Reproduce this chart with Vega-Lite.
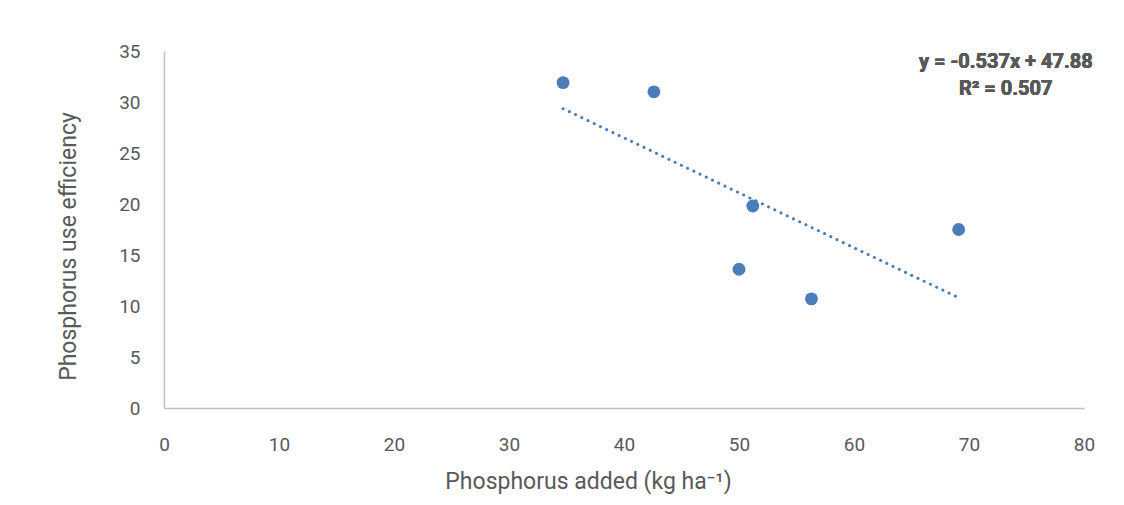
{
  "$schema": "https://vega.github.io/schema/vega-lite/v6.json",
  "autosize": {"type": "none"},
  "padding": {"left": 164, "top": 51, "right": 40, "bottom": 97},
  "width": 920,
  "height": 357,
  "background": "white",
  "config": {"view": {"stroke": null}},
  "data": {"values": [
    {"P_added": 34.7, "PUE": 31.9},
    {"P_added": 42.6, "PUE": 31.0},
    {"P_added": 51.2, "PUE": 19.8},
    {"P_added": 50.0, "PUE": 13.6},
    {"P_added": 56.3, "PUE": 10.7},
    {"P_added": 69.1, "PUE": 17.5}
  ]},
  "layer": [
    {
      "transform": [{"regression": "PUE", "on": "P_added"}],
      "mark": {"type": "line", "color": "#4A7EBB", "strokeWidth": 3, "strokeCap": "round", "strokeDash": [0.1, 6.8]},
      "encoding": {
        "x": {"field": "P_added", "type": "quantitative"},
        "y": {"field": "PUE", "type": "quantitative"}
      }
    },
    {
      "mark": {"type": "point", "filled": true, "opacity": 1, "color": "#4A7EBB", "size": 165},
      "encoding": {
        "x": {
          "field": "P_added", "type": "quantitative",
          "scale": {"domain": [0, 80], "nice": false},
          "axis": {
            "title": "Phosphorus  added (kg ha⁻¹)",
            "values": [0, 10, 20, 30, 40, 50, 60, 70, 80],
            "grid": false, "ticks": false, "tickSize": 0, "labelFlush": false,
            "domainColor": "#BFBFBF", "domainWidth": 1.5,
            "labelColor": "#595959", "labelFont": "Roboto", "labelFontWeight": "normal", "labelFontSize": 19, "labelPadding": 27,
            "titleColor": "#595959", "titleFont": "Roboto", "titleFontSize": 23, "titleFontWeight": "normal",
            "titlePadding": 16, "titleX": 424
          }
        },
        "y": {
          "field": "PUE", "type": "quantitative",
          "scale": {"domain": [0, 35], "nice": false},
          "axis": {
            "title": "Phosphorus use efficiency",
            "values": [0, 5, 10, 15, 20, 25, 30, 35],
            "grid": false, "ticks": false, "tickSize": 0,
            "domainColor": "#BFBFBF", "domainWidth": 1.5,
            "labelColor": "#595959", "labelFont": "Roboto", "labelFontWeight": "normal", "labelFontSize": 19, "labelPadding": 24,
            "titleColor": "#595959", "titleFont": "Roboto", "titleFontSize": 23, "titleFontWeight": "normal",
            "titlePadding": 38, "titleY": 195
          }
        }
      }
    },
    {
      "mark": {"type": "text", "text": ["y = -0.537x + 47.88", "R² = 0.507"], "align": "center", "baseline": "middle",
               "font": "Roboto", "fontWeight": "bold", "fontSize": 20, "lineHeight": 27, "color": "#595959"},
      "encoding": {
        "x": {"datum": 73.2, "type": "quantitative"},
        "y": {"datum": 33.9, "type": "quantitative"}
      }
    }
  ]
}
